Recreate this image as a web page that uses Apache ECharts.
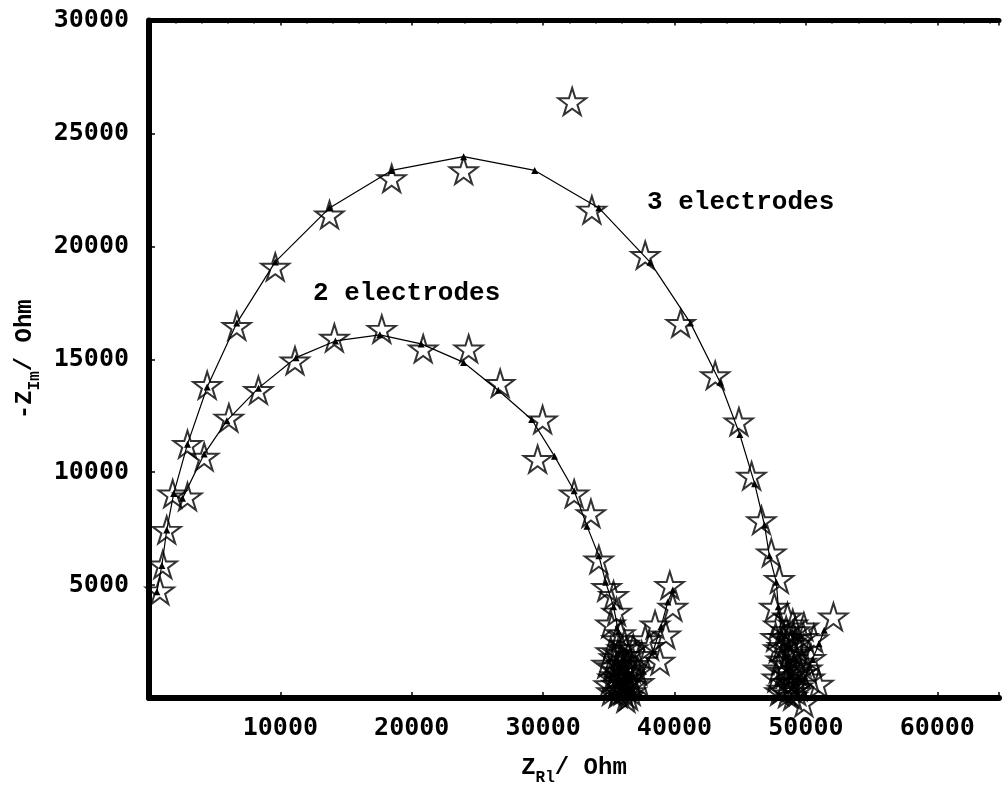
<!DOCTYPE html>
<html>
<head>
<meta charset="utf-8">
<script src="https://cdn.jsdelivr.net/npm/echarts@6/dist/echarts.min.js"></script>
<style>
  html, body { margin: 0; padding: 0; background: #fff; }
  #chart { width: 1002px; height: 791px; }
</style>
</head>
<body>
<div id="chart"></div>
<script>
// tick labels
var xTickLabels = [10000, 20000, 30000, 40000, 50000, 60000];
var yTickLabels = [5000, 10000, 15000, 20000, 25000, 30000];

// 2 electrodes - measured (stars)
var star2X = [2930, 4200, 6080, 8330, 11110, 14110, 17720, 20870, 24330, 26730, 29960, 29580, 32360, 33640, 34240, 34840,
  35360, 35590, 35140, 35890, 35140, 34840, 35590, 36110, 39640, 39870, 39340, 38520, 37770, 38890, 36860, 36640,
  35600, 36000, 36300, 35800, 36500, 35300, 36800, 36200, 37200, 37500, 38100, 35700, 36400, 35900, 36700,
  35200, 35500, 35900, 36200, 36600, 35400, 36000, 35700, 36300, 35000, 36900, 37300, 35600, 36100, 35300, 36500, 35800, 36700];
var star2Y = [8920, 10680, 12410, 13630, 14940, 15950, 16340, 15470, 15470, 13940, 12330, 10580, 9050, 8180, 6130, 4910,
  4560, 3820, 3290, 2860, 2070, 1510, 630, 330, 5000, 4040, 2810, 3250, 2600, 1640, 2200, 890,
  1200, 800, 1500, 300, 100, 900, 600, 2400, 1200, 1900, 2300, 2000, 700, 1700, 1300,
  300, 1000, 1500, 600, 1100, 1800, 2200, 200, 0, 600, 1500, 700, 2600, 1200, 1400, 1900, 800, 300];

// 2 electrodes - fitted curve
var fit2X = [2550, 4200, 5930, 8330, 11190, 14190, 17570, 20720, 23950, 26580, 29130, 30860, 32360, 33340, 34240, 34760,
  35360, 35740, 36110, 36340, 36860, 37620, 38370, 38970, 39490, 39870];
var fit2Y = [8840, 10800, 12280, 13720, 15070, 15810, 16080, 15680, 14860, 13630, 12330, 10710, 9180, 7610, 6300, 5130,
  4040, 2950, 1850, 760, 330, 1200, 2070, 3160, 4250, 4780];

// 3 electrodes - measured (stars)
var star3X = [830, 1050, 1350, 1800, 2930, 4430, 6680, 9610, 13740, 18470, 23950, 32210, 33710, 37770, 40470, 43100,
  44900, 45870, 46620, 47370, 47980, 47600, 47900, 49850, 52100, 50600, 47900, 50380, 48350, 50980, 48880, 49850,
  48300, 48700, 49100, 48500, 49300, 48900, 49600, 48100, 49500, 48600, 49200, 50100, 48200, 49000, 47800,
  47900, 48200, 48500, 48800, 49100, 49400, 49700, 48000, 48400, 48700, 49000, 49300, 48600, 49800, 50300, 47700, 48900, 49200];
var star3Y = [4760, 5910, 7440, 9050, 11240, 13850, 16470, 19090, 21400, 23010, 23360, 26420, 21620, 19610, 16600, 14290,
  12240, 9840, 7870, 6440, 5260, 4040, 3250, 3160, 3600, 2640, 2200, 1770, 1200, 630, 460, -200,
  2700, 1900, 1400, 700, 300, 2500, 1100, 1700, 2100, 3600, 3000, 1300, 400, 100, 900,
  1300, 2300, 3000, 1000, 2000, 500, 1600, 300, 1500, 2600, 3300, 1200, 200, 2700, 900, 2700, 700, 2400];

// 3 electrodes - fitted curve
var fit3X = [600, 980, 1350, 1880, 2930, 4430, 6680, 9610, 13740, 18470, 23950, 29360, 34240, 38140, 41220, 43470,
  44970, 46100, 46850, 47220, 47750, 47900, 48130, 48500, 48880, 49250, 49900, 50500, 51000, 51400];
var fit3Y = [4700, 5870, 7440, 9050, 11240, 13770, 16600, 19310, 21700, 23360, 23970, 23360, 21700, 19300, 16600, 13980,
  11670, 9490, 7660, 6300, 5130, 4040, 2950, 1850, 980, 330, 900, 1700, 2400, 3000];

function pairs(xs, ys) {
  return xs.map(function (x, i) { return [x, ys[i]]; });
}

var starPath = 'path://M50,0 L61,35 L98,35 L68,57 L79,91 L50,70 L21,91 L32,57 L2,35 L39,35 Z';
var tickFont = { fontFamily: 'DejaVu Sans Mono', fontWeight: 'bold', fontSize: 25, color: '#000' };
var nameRich = {
  b: { fontFamily: 'Liberation Mono', fontWeight: 'bold', fontSize: 24, color: '#000', lineHeight: 28, verticalAlign: 'bottom' },
  s: { fontFamily: 'Liberation Mono', fontWeight: 'bold', fontSize: 16, color: '#000', lineHeight: 28, verticalAlign: 'bottom', padding: [0, 0, -6, 0] }
};

function starSeries(data) {
  return {
    type: 'scatter',
    data: data,
    clip: false,
    symbol: starPath,
    symbolSize: [28, 27],
    itemStyle: { color: 'rgba(0,0,0,0)', borderColor: '#000', borderWidth: 2 },
    silent: true,
    z: 3
  };
}

function fitSeries(data) {
  return {
    type: 'line',
    data: data,
    symbol: 'triangle',
    symbolSize: 7,
    showAllSymbol: true,
    itemStyle: { color: '#000' },
    lineStyle: { color: '#000', width: 1.2 },
    silent: true,
    z: 4
  };
}

var chart = echarts.init(document.getElementById('chart'));
chart.setOption({
  animation: false,
  backgroundColor: '#fff',
  grid: { left: 149, top: 20.5, right: 0, bottom: 82.5 },
  xAxis: [{
    type: 'value', min: 0, max: 64700, interval: 10000,
    position: 'bottom',
    axisLine: { lineStyle: { color: '#000', width: 6 } },
    axisTick: { inside: true, length: 6, lineStyle: { color: '#000', width: 1.5 } },
    minorTick: { show: true, splitNumber: 5, length: 3, lineStyle: { color: '#000', width: 1.5 } },
    splitLine: { show: false },
    axisLabel: Object.assign({
      margin: 18,
      formatter: function (v) { return xTickLabels.indexOf(v) >= 0 ? String(v) : ''; }
    }, tickFont),
    name: '{b|Z}{s|Rl}{b|/ Ohm}',
    nameLocation: 'middle',
    nameGap: 54,
    nameTextStyle: { rich: nameRich }
  }, {
    type: 'value', min: 0, max: 64700, interval: 10000,
    position: 'top',
    axisLine: { lineStyle: { color: '#000', width: 5 } },
    axisTick: { inside: true, length: 5, lineStyle: { color: '#000', width: 1.5 } },
    minorTick: { show: true, splitNumber: 5, length: 3, lineStyle: { color: '#000', width: 1.5 } },
    splitLine: { show: false },
    axisLabel: { show: false }
  }],
  yAxis: {
    type: 'value', min: 0, max: 30000, interval: 5000,
    axisLine: { show: true, lineStyle: { color: '#000', width: 6 } },
    axisTick: { show: true, inside: true, length: 6, lineStyle: { color: '#000', width: 1.5 } },
    minorTick: { show: true, splitNumber: 5, length: 3, lineStyle: { color: '#000', width: 1.5 } },
    splitLine: { show: false },
    axisLabel: Object.assign({
      margin: 20,
      formatter: function (v) { return yTickLabels.indexOf(v) >= 0 ? String(v) : ''; }
    }, tickFont),
    name: '{b|-Z}{s|Im}{b|/ Ohm}',
    nameLocation: 'middle',
    nameRotate: 90,
    nameGap: 112,
    nameTextStyle: { rich: nameRich }
  },
  series: [
    starSeries(pairs(star2X, star2Y)),
    fitSeries(pairs(fit2X, fit2Y)),
    starSeries(pairs(star3X, star3Y)),
    fitSeries(pairs(fit3X, fit3Y))
  ],
  graphic: [
    { type: 'text', left: 313, top: 280, style: { text: '2 electrodes', font: 'bold 26px "Liberation Mono"', fill: '#000' } },
    { type: 'text', left: 647, top: 189, style: { text: '3 electrodes', font: 'bold 26px "Liberation Mono"', fill: '#000' } }
  ]
});
</script>
</body>
</html>
